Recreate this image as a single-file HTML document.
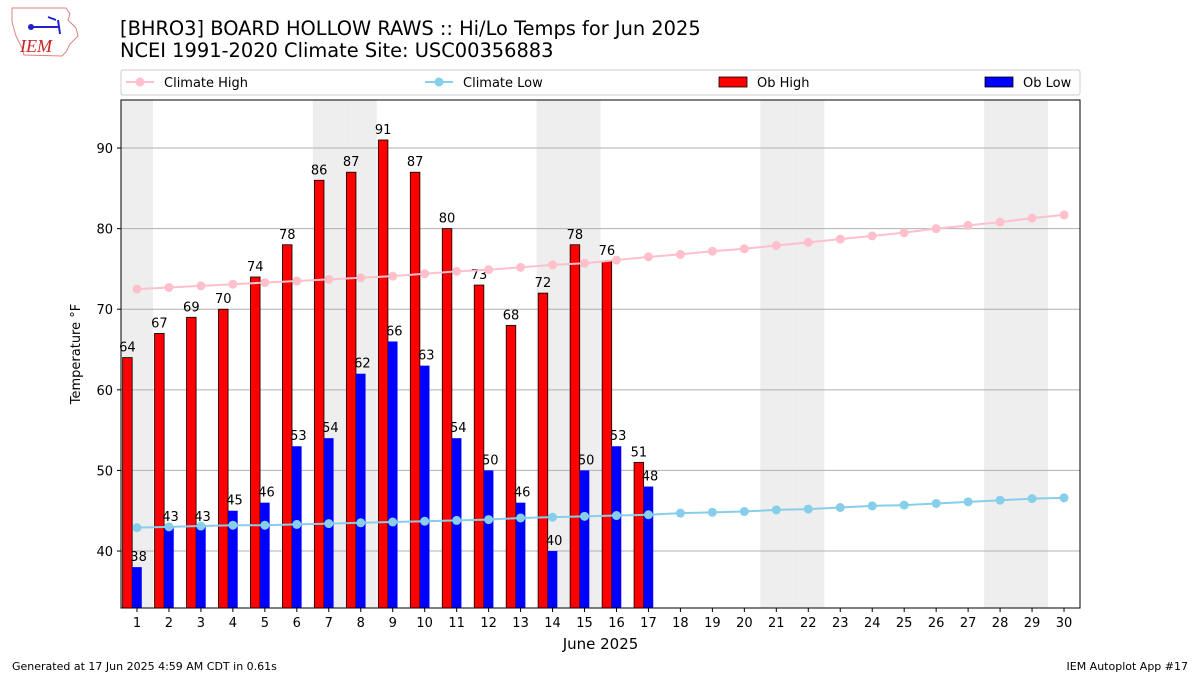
<!DOCTYPE html>
<html><head><meta charset="utf-8"><style>
body{margin:0;background:#fff;width:1200px;height:675px;overflow:hidden;font-family:"Liberation Sans","DejaVu Sans",sans-serif}
</style></head><body>
<svg id="c" width="1200" height="675" xmlns="http://www.w3.org/2000/svg" font-family="DejaVu Sans, Liberation Sans, sans-serif">
<g>
<path d="M12,8 L66,8 L70,14 L68,20 L76,28 L78,36 L70,44 L66,52 L62,56 L24,55 L22,48 L16,36 L12,22 Z" fill="none" stroke="#e08080" stroke-width="1"/>
<text x="20" y="52" font-family="Liberation Serif,serif" font-style="italic" font-size="18" fill="#cc2222">IEM</text>
<path d="M30,27 L60,27 M58,20 L60,34 M48,17 L56,20" stroke="#2222cc" stroke-width="2" fill="none"/>
<circle cx="31" cy="27" r="3" fill="#2222cc"/>
</g>
<text x="120" y="35" font-size="19.4" fill="#000">[BHRO3] BOARD HOLLOW RAWS :: Hi/Lo Temps for Jun 2025</text>
<text x="120" y="57" font-size="19.4" fill="#000">NCEI 1991-2020 Climate Site: USC00356883</text>
<g id="legend">
<rect x="121" y="70" width="959" height="25" fill="#fff" stroke="#ccc" rx="2"/>
<g><line x1="126" y1="82" x2="154" y2="82" stroke="pink" stroke-width="2"/><circle cx="140" cy="82" r="4.5" fill="pink"/><text x="164" y="87" font-size="13">Climate High</text></g>
<g><line x1="425" y1="82" x2="453" y2="82" stroke="skyblue" stroke-width="2"/><circle cx="439" cy="82" r="4.5" fill="skyblue"/><text x="463" y="87" font-size="13">Climate Low</text></g>
<g><rect x="719" y="77" width="28" height="10" fill="red" stroke="#000" stroke-width="0.8"/><text x="757" y="87" font-size="13">Ob High</text></g>
<g><rect x="985" y="77" width="28" height="10" fill="blue" stroke="#000" stroke-width="0.8"/><text x="1023" y="87" font-size="13">Ob Low</text></g>
</g>
<g id="plot"></g>
<text x="12" y="670" font-size="11">Generated at 17 Jun 2025 4:59 AM CDT in 0.61s</text>
<text x="1188" y="670" font-size="11" text-anchor="end">IEM Autoplot App #17</text>
</svg>
<script>
const days=[1,2,3,4,5,6,7,8,9,10,11,12,13,14,15,16,17,18,19,20,21,22,23,24,25,26,27,28,29,30];
const obHigh=[64,67,69,70,74,78,86,87,91,87,80,73,68,72,78,76,51];
const obLow=[38,43,43,45,46,53,54,62,66,63,54,50,46,40,50,53,48];
const climHigh=[72.5,72.7,72.9,73.1,73.3,73.5,73.7,73.9,74.1,74.4,74.7,74.9,75.2,75.5,75.7,76.1,76.5,76.8,77.2,77.5,77.9,78.3,78.7,79.1,79.5,80.0,80.4,80.8,81.3,81.7];
const climLow=[42.9,43.0,43.1,43.2,43.2,43.3,43.4,43.5,43.6,43.7,43.8,43.9,44.1,44.2,44.3,44.4,44.5,44.7,44.8,44.9,45.1,45.2,45.4,45.6,45.7,45.9,46.1,46.3,46.5,46.6];
const weekends=[1,7,8,14,15,21,22,28,29];
const yTicks=[40,50,60,70,80,90];
const L=121,R=1080,T=100,B=608,X0=0.5,X1=30.5,Y0=32.93,Y1=95.96;
const X=v=>L+(v-X0)/(X1-X0)*(R-L);
const Y=v=>B-(v-Y0)/(Y1-Y0)*(B-T);
const NS="http://www.w3.org/2000/svg";const P=document.getElementById('plot');
function mk(t,a,p){const e=document.createElementNS(NS,t);for(const k in a)e.setAttribute(k,a[k]);(p||P).appendChild(e);return e;}
weekends.forEach(d=>{const e=mk('rect',{x:X(d-0.5),y:T,width:X(d+0.5)-X(d-0.5),height:B-T,fill:'#eeeeee'});

});
yTicks.forEach(v=>{const g=mk('line',{x1:L,x2:R,y1:Y(v),y2:Y(v),stroke:'#b0b0b0','stroke-width':1});


mk('line',{x1:L-4,x2:L,y1:Y(v),y2:Y(v),stroke:'#000'});
const t=mk('text',{x:L-8,y:Y(v)+5,'font-size':13,'text-anchor':'end'});t.textContent=v;

});
days.forEach(d=>{mk('line',{x1:X(d),x2:X(d),y1:B,y2:B+4,stroke:'#000'});
const t=mk('text',{x:X(d),y:B+19,'font-size':13,'text-anchor':'middle'});t.textContent=d;

});
obHigh.forEach((v,i)=>{const d=days[i];const r=mk('rect',{x:X(d-0.45),y:Y(v),width:X(d-0.15)-X(d-0.45),height:B-Y(v),fill:'red',stroke:'#000','stroke-width':0.8});


const t=mk('text',{x:X(d-0.3),y:Y(v)-6,'font-size':13,'text-anchor':'middle'});t.textContent=v;

});
obLow.forEach((v,i)=>{const d=days[i];const r=mk('rect',{x:X(d-0.15),y:Y(v),width:X(d+0.15)-X(d-0.15),height:B-Y(v),fill:'blue'});


const t=mk('text',{x:X(d+0.05),y:Y(v)-6,'font-size':13,'text-anchor':'middle'});t.textContent=v;

});
[[climHigh,'pink','climate-high'],[climLow,'skyblue','climate-low']].forEach(([arr,c,n])=>{
const l=mk('polyline',{points:arr.map((v,i)=>X(days[i])+','+Y(v)).join(' '),fill:'none',stroke:c,'stroke-width':2});


arr.forEach((v,i)=>{const p=mk('circle',{cx:X(days[i]),cy:Y(v),r:4.5,fill:c});

});});
const f=mk('rect',{x:L,y:T,width:R-L,height:B-T,fill:'none',stroke:'#000','stroke-width':1});


const xl=mk('text',{x:(L+R)/2,y:649,'font-size':15,'text-anchor':'middle'});xl.textContent='June 2025';


const yl=mk('text',{x:0,y:0,'font-size':13,'text-anchor':'middle',transform:'translate(80,354) rotate(-90)'});yl.textContent='Temperature °F';


</script>
</body></html>
